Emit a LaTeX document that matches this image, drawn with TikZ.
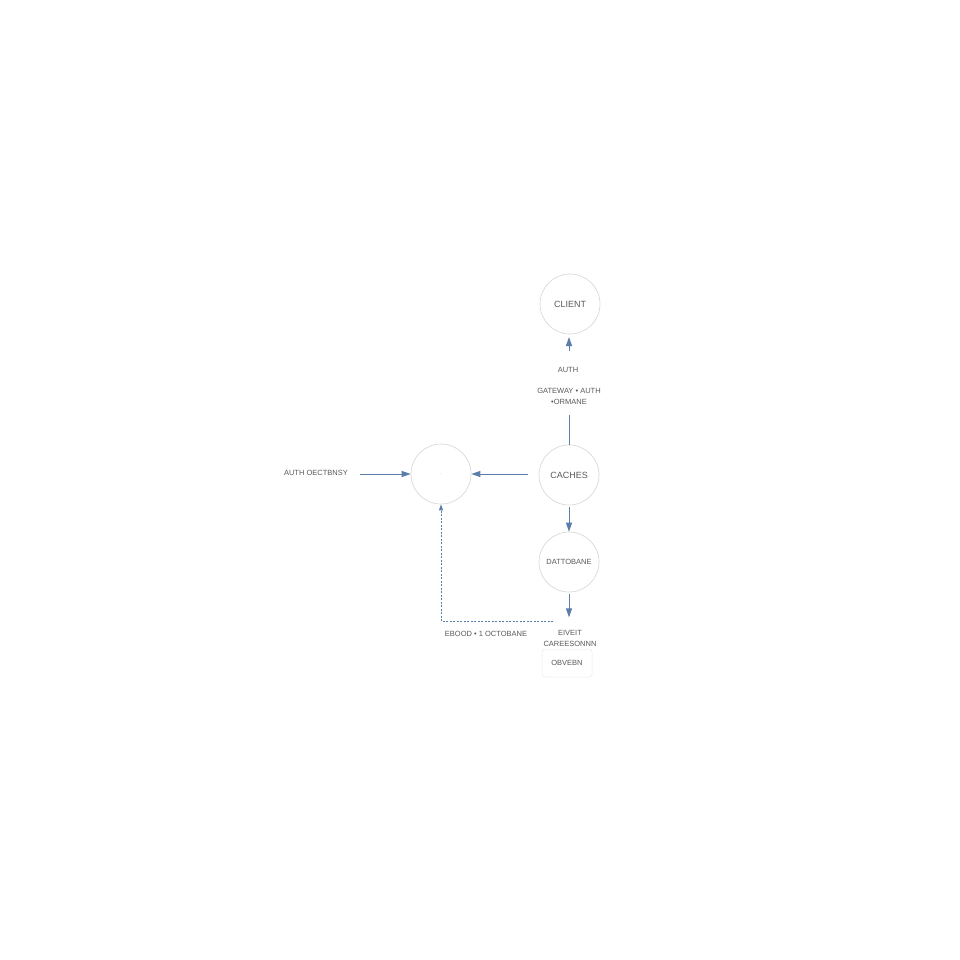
\documentclass[tikz,border=0pt]{standalone}
\usepackage{fontspec}
\setmainfont{Liberation Sans}
\usetikzlibrary{arrows.meta}
\definecolor{ring}{HTML}{DADADA}
\definecolor{flow}{HTML}{5A7DAA}
\definecolor{ink}{HTML}{5A5A5A}
\tikzset{
  x=1pt, y=-1pt,
  ringnode/.style={circle, draw=ring, line width=0.7pt, minimum size=60pt, inner sep=0pt, text=ink, font=\fontsize{9}{10}\selectfont},
  lbl/.style={text=ink, font=\fontsize{7.5}{11}\selectfont, align=center, inner sep=1pt},
  flowarrow/.style={draw=flow, line width=1pt, -{Triangle[length=9pt,width=6pt]}},
  dashflow/.style={draw=flow, line width=0.9pt, dashed, dash pattern=on 2pt off 1.5pt, -{Triangle[length=6pt,width=4pt]}},
  boxnode/.style={draw=ring!60, rounded corners=3pt, line width=0.5pt, minimum width=50pt, minimum height=28pt, text=ink, font=\fontsize{7.5}{9}\selectfont}
}
\begin{document}
\begin{tikzpicture}
\useasboundingbox[fill=white] (0,0) rectangle (960,960);
\node[ringnode] (client) at (570,304) {CLIENT};
\node[ringnode] (caches) at (569,475) {CACHES};
\node[ringnode] (hub) at (441,474) {\fontsize{4}{4}\selectfont$\cdot$};
\node[ringnode, font=\fontsize{7.5}{9}\selectfont] (data) at (569,562) {DATTOBANE};
\node[boxnode] (obv) at (567,663) {OBVEBN};
\node[lbl] (auth) at (568,370) {AUTH};
\node[lbl] (gw) at (569,396.5) {GATEWAY • AUTH\\•ORMANE};
\node[lbl, anchor=east] (left) at (349,473) {AUTH OECTBNSY};
\node[lbl] (evt) at (570,638.5) {EIVEIT\\CAREESONNN};
\node[lbl] (ebo) at (486,634) {EBOOD • 1 OCTOBANE};
\coordinate (cup) at (569,415);
\coordinate (cupend) at (569,351);
\coordinate (cuptip) at (569,337);
\coordinate (lstart) at (360,474);
\coordinate (cstart) at (528,474);
\coordinate (dstart) at (553,621);
\coordinate (corner) at (441,621);
\draw[draw=flow, line width=1pt] (caches.north) -- (cup);
\draw[flowarrow] (cupend) -- (cuptip);
\draw[flowarrow] (lstart) -- (hub.west);
\draw[flowarrow] (cstart) -- (hub.east);
\draw[flowarrow] (caches.south) ++(0,2) -- (data.north);
\draw[flowarrow] (data.south) ++(0,2) -- ++(0,23);
\draw[dashflow] (dstart) -- (corner) -- (hub.south);
\end{tikzpicture}
\end{document}
